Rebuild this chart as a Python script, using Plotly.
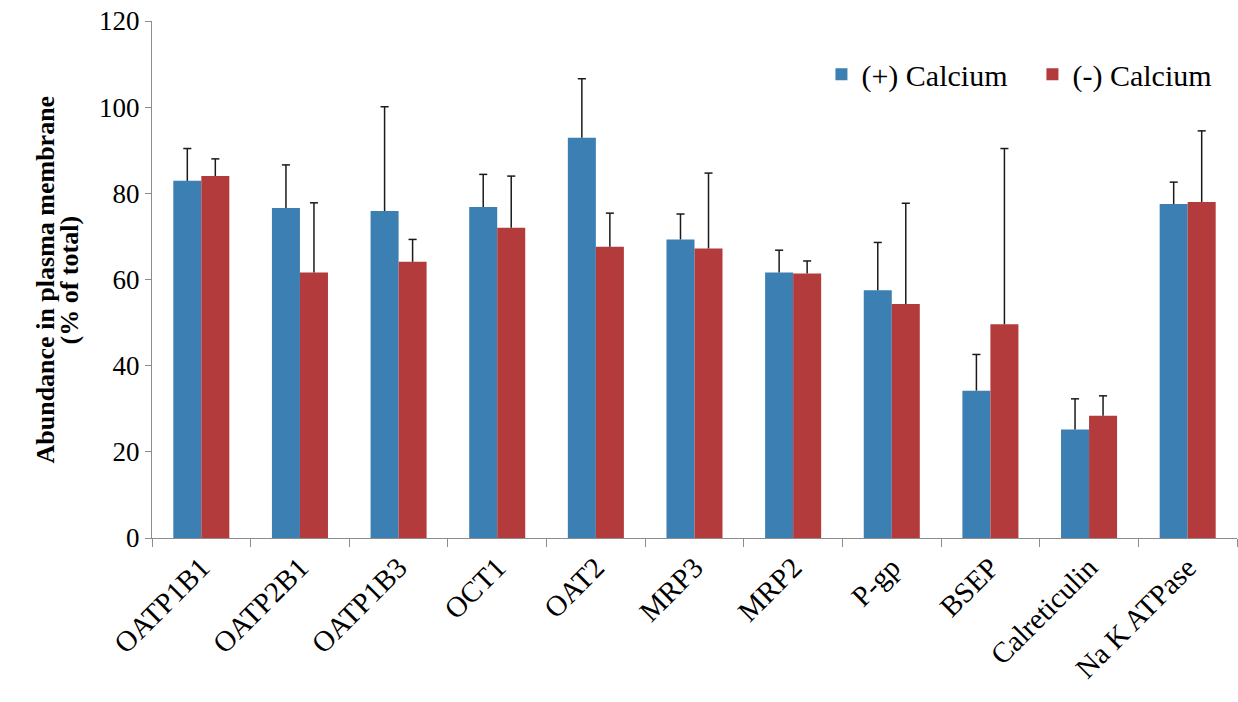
import plotly.graph_objects as go

# Transporter abundance in the plasma membrane (% of total), mean + upper SD
categories = ["OATP1B1", "OATP2B1", "OATP1B3", "OCT1", "OAT2", "MRP3", "MRP2",
              "P-gp", "BSEP", "Calreticulin", "Na K ATPase"]
with_calcium = [82.9, 76.6, 75.9, 76.8, 92.9, 69.3, 61.6, 57.5, 34.2, 25.2, 77.5]
with_calcium_sd = [7.5, 10.0, 24.2, 7.6, 13.7, 5.9, 5.2, 11.1, 8.4, 7.1, 5.1]
without_calcium = [84.0, 61.6, 64.1, 72.0, 67.6, 67.2, 61.4, 54.3, 49.6, 28.4, 78.0]
without_calcium_sd = [4.0, 16.2, 5.2, 12.0, 7.8, 17.5, 2.9, 23.4, 40.8, 4.6, 16.5]
y_ticks = [0, 20, 40, 60, 80, 100, 120]

BLUE = "#3B7FB3"
RED = "#B43B3B"
FONT = "Liberation Serif, Times New Roman, serif"

BARGAP = 0.432
bar_w = (1 - BARGAP) / 2          # width of one bar in category units
cap_half = 0.041                  # half width of the error-bar cap


def upper_error_path(values, errors, offset):
    xs, ys = [], []
    for i, (v, e) in enumerate(zip(values, errors)):
        xc = i + offset
        xs += [xc, xc, None, xc - cap_half, xc + cap_half, None]
        ys += [v, v + e, None, v + e, v + e, None]
    return xs, ys


fig = go.Figure()
fig.add_trace(go.Bar(name="(+) Calcium", x=categories, y=with_calcium,
                     marker=dict(color=BLUE, line=dict(width=0))))
fig.add_trace(go.Bar(name="(-) Calcium", x=categories, y=without_calcium,
                     marker=dict(color=RED, line=dict(width=0))))

for vals, errs, off in [(with_calcium, with_calcium_sd, -bar_w / 2),
                        (without_calcium, without_calcium_sd, bar_w / 2)]:
    ex, ey = upper_error_path(vals, errs, off)
    fig.add_trace(go.Scatter(x=ex, y=ey, xaxis="x2", mode="lines",
                             line=dict(color="#1a1a1a", width=1.5),
                             showlegend=False, hoverinfo="skip"))

fig.update_layout(
    width=1238, height=702,
    barmode="group", bargap=BARGAP, bargroupgap=0,
    plot_bgcolor="white", paper_bgcolor="white",
    margin=dict(l=152, r=1, t=21, b=164, autoexpand=False),
    font=dict(family=FONT, color="black"),
    xaxis=dict(
        type="category", range=[-0.5, 10.5], tickangle=-45,
        tickson="boundaries", ticks="outside", ticklen=8, tickcolor="#8c8c8c",
        showline=True, linecolor="#8c8c8c", linewidth=1,
        showgrid=False, tickfont=dict(size=29, family=FONT, color="black"),
    ),
    xaxis2=dict(overlaying="x", range=[-0.5, 10.5], visible=False),
    yaxis=dict(
        range=[0, 120], tickvals=y_ticks, ticks="outside", ticklen=6,
        tickcolor="#8c8c8c", showline=True, linecolor="#8c8c8c", linewidth=1,
        showgrid=False, zeroline=False,
        tickfont=dict(size=27, family=FONT, color="black"),
    ),
    legend=dict(orientation="h", x=0.617, xanchor="left", y=0.897,
                yanchor="middle", font=dict(size=30, family=FONT),
                bgcolor="rgba(0,0,0,0)", itemwidth=30, traceorder="normal",
                entrywidth=166, entrywidthmode="pixels"),
    annotations=[
        dict(text="<b>Abundance in plasma membrane</b>", textangle=-90,
             xref="paper", yref="paper", x=-0.0977, y=0.5,
             xanchor="center", yanchor="middle", showarrow=False,
             font=dict(size=26, family=FONT)),
        dict(text="<b>(% of total)</b>", textangle=-90,
             xref="paper", yref="paper", x=-0.0756, y=0.5,
             xanchor="center", yanchor="middle", showarrow=False,
             font=dict(size=26, family=FONT)),
    ],
)

fig.write_html("out.html")
